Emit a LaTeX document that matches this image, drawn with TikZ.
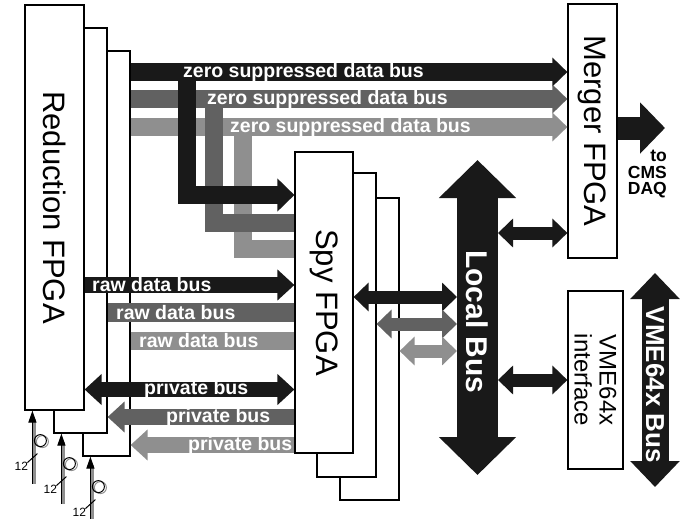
\documentclass[tikz,border=0pt]{standalone}
\usepackage{fontspec}
\setmainfont{Liberation Sans}
\usetikzlibrary{arrows.meta}
\definecolor{busblack}{gray}{0.1}
\definecolor{busdark}{gray}{0.38}
\definecolor{buslight}{gray}{0.56}
\begin{document}
\begin{tikzpicture}[x=1pt, y=-1pt,
    fpga/.style={draw, line width=1.2pt, fill=white, inner sep=0pt},
    fpgatext/.style={rotate=-90, inner sep=0pt, font=\fontsize{31}{31}\selectfont},
    bustext/.style={text=white, inner sep=0pt, anchor=west, font=\bfseries\fontsize{19.5}{19.5}\selectfont},
    wide/.style={line width=18pt},
    link/.style={line width=13pt, {Triangle[width=28pt,length=15pt]}-{Triangle[width=28pt,length=15pt]}}]
    \tikzset{>={Triangle[width=30pt,length=17pt]}}
    \useasboundingbox (0,0) rectangle (698,525);
    \node[fpga, minimum width=47pt, minimum height=405pt] (red3) at (106.5,253.5) {};
    \node[fpga, minimum width=53pt, minimum height=405pt] (red2) at (80.5,230.5) {};
    \node[fpga, minimum width=59pt, minimum height=405pt] (red1) at (54.5,207.5) {};
    \node[fpga, minimum width=59pt, minimum height=302pt] (spy3) at (369.5,349) {};
    \node[fpga, minimum width=59pt, minimum height=304pt] (spy2) at (346.5,325) {};
    \node[fpga, minimum width=58pt, minimum height=301pt] (spy1) at (324,302.5) {};
    \node[fpga, minimum width=49pt, minimum height=254pt] (merger) at (592.5,131) {};
    \node[fpga, minimum width=55pt, minimum height=178pt] (vme) at (595.5,380) {};
    \node[fpgatext] (redtext) at (red1) {Reduction FPGA};
    \node[fpgatext] (spytext) at (spy1) {Spy FPGA};
    \node[fpgatext] (mergertext) at (merger) {Merger FPGA};
    \node[rotate=-90, align=center, inner sep=0pt, font=\fontsize{24}{25}\selectfont] (vmetext) at (vme) {VME64x\\interface};
    \draw[wide, busblack, -{Triangle[width=28pt,length=15pt]}] (red3.east |- 0,72) -- (merger.west |- 0,72);
    \draw[wide, busdark, -{Triangle[width=28pt,length=15pt]}] (red3.east |- 0,99) -- (merger.west |- 0,99);
    \draw[wide, buslight, -{Triangle[width=28pt,length=15pt]}] (red3.east |- 0,127) -- (merger.west |- 0,127);
    \coordinate (tap3) at (242.5,127);
    \coordinate (tap2) at (214,99);
    \coordinate (tap1) at (186.5,72);
    \draw[wide, buslight] (tap3) |- (spy1.west |- 0,249);
    \draw[wide, busdark] (tap2) |- (spy1.west |- 0,222.5);
    \draw[wide, busblack, -{Triangle[width=32pt,length=17pt]}] (tap1) |- (spy1.west |- 0,195);
    \node[bustext] (zs1) at (183,72) {zero suppressed data bus};
    \node[bustext] (zs2) at (207,99) {zero suppressed data bus};
    \node[bustext] (zs3) at (230,127) {zero suppressed data bus};
    \draw[line width=16pt, busblack, ->] (red1.east |- 0,285) -- (spy1.west |- 0,285);
    \draw[line width=19pt, busdark] (red2.east |- 0,312.5) -- (spy1.west |- 0,312.5);
    \draw[wide, buslight] (red3.east |- 0,341) -- (spy1.west |- 0,341);
    \node[bustext] (raw1) at (92,285) {raw data bus};
    \node[bustext] (raw2) at (116,312.5) {raw data bus};
    \node[bustext] (raw3) at (139,341) {raw data bus};
    \draw[line width=15pt, busblack, <->] (red1.east |- 0,389.5) -- (spy1.west |- 0,389.5);
    \draw[line width=16pt, busdark, <-] (red2.east |- 0,417) -- (spy1.west |- 0,417);
    \draw[line width=16pt, buslight, <-] (red3.east |- 0,445) -- (spy1.west |- 0,445);
    \node[bustext] (priv1) at (144,389.5) {private bus};
    \node[bustext] (priv2) at (166,417) {private bus};
    \node[bustext] (priv3) at (188,445) {private bus};
    \coordinate (lbtop) at (477.5,160);
    \coordinate (lbbot) at (477.5,475);
    \coordinate (lbw) at (457,317);
    \coordinate (lbe) at (498,317);
    \draw[line width=41pt, busblack, {Triangle[width=75pt,length=38pt]}-{Triangle[width=75pt,length=38pt]}] (lbtop) -- (lbbot);
    \node[rotate=-90, text=white, inner sep=0pt, font=\bfseries\fontsize{30}{30}\selectfont] (lbtext) at (477.5,322) {Local Bus};
    \draw[link, busblack] (spy1.east |- 0,297) -- (lbw |- 0,297);
    \draw[link, busdark] (spy2.east |- 0,324) -- (lbw |- 0,324);
    \draw[link, buslight] (spy3.east |- 0,351) -- (lbw |- 0,351);
    \draw[link, busblack] (lbe |- 0,233) -- (merger.west |- 0,233);
    \draw[link, busblack] (lbe |- vme.west) -- (vme.west);
    \coordinate (vmetop) at (655,273);
    \coordinate (vmebot) at (655,487);
    \draw[line width=27pt, busblack, {Triangle[width=48pt,length=26pt]}-{Triangle[width=48pt,length=26pt]}] (vmetop) -- (vmebot);
    \node[rotate=-90, text=white, inner sep=0pt, font=\bfseries\fontsize{26}{26}\selectfont] (vmebus) at (655,385) {VME64x Bus};
    \coordinate (cms) at (665,128);
    \draw[line width=23pt, busblack, -{Triangle[width=50pt,length=25pt]}] (merger.east |- cms) -- (cms);
    \node[align=right, anchor=north east, inner sep=0pt, font=\bfseries\fontsize{17.5}{16.5}\selectfont] (cmstext) at (667,150) {to\\CMS\\DAQ};
    \foreach \b/\len in {red1/73, red2/70, red3/62} {
        \coordinate (fib\b) at ([xshift=9pt]\b.south west);
        \draw[buslight, line width=3.5pt] ([xshift=1pt, yshift=-\len pt]fib\b) -- ([xshift=1pt, yshift=-8pt]fib\b);
        \draw[line width=1.2pt, -{Triangle[width=8pt,length=12pt]}] ([xshift=-1pt, yshift=-\len pt]fib\b) -- ([xshift=-1pt]fib\b);
        \draw[buslight, line width=1pt] ([xshift=9pt, yshift=-31pt]fib\b) circle (6pt);
        \draw[line width=1pt] ([xshift=7pt, yshift=-30pt]fib\b) circle (6pt);
        \draw[line width=1pt] ([xshift=-6pt, yshift=-52pt]fib\b) -- ([xshift=4pt, yshift=-43pt]fib\b);
        \node[inner sep=0pt, font=\fontsize{12}{12}\selectfont] (n\b) at ([xshift=-12pt, yshift=-56pt]fib\b) {12};
    }
\end{tikzpicture}
\end{document}
